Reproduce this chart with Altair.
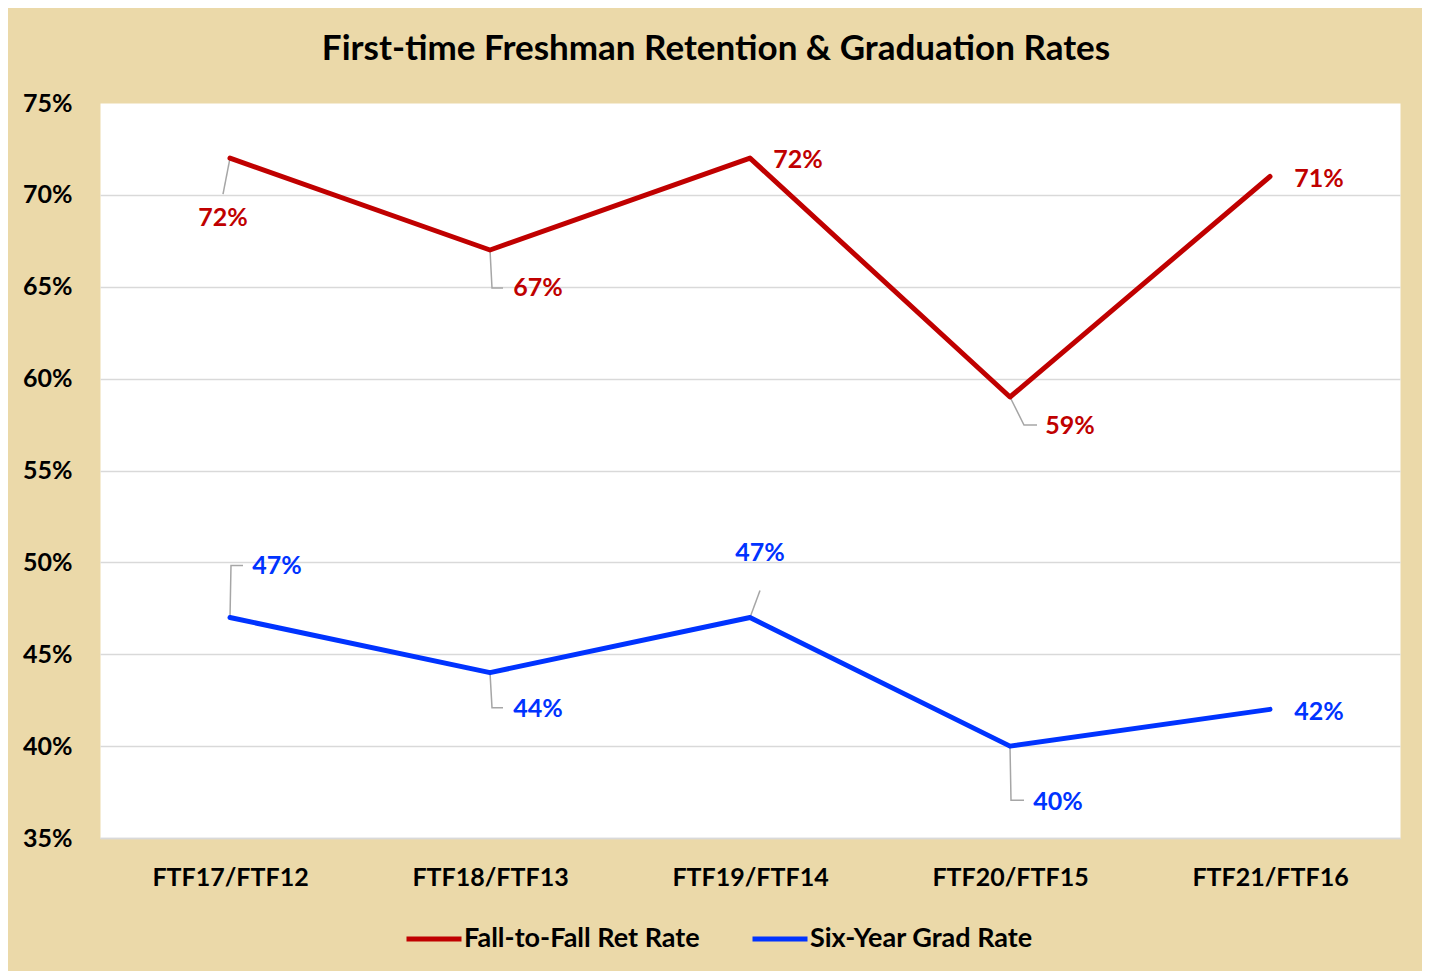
import json
import altair as alt
import pandas as pd

# ---- data ----
categories = ["FTF17/FTF12", "FTF18/FTF13", "FTF19/FTF14", "FTF20/FTF15", "FTF21/FTF16"]
series_names = ["Fall-to-Fall Ret Rate", "Six-Year Grad Rate"]
ret_rate = [72, 67, 72, 59, 71]
grad_rate = [47, 44, 47, 40, 42]
y_ticks = [35, 40, 45, 50, 55, 60, 65, 70, 75]

# ---- layout / style ----
W, H = 1300, 735
Y_MIN, Y_MAX = 35, 75
PX_X = W / 5.0
PX_Y = H / float(Y_MAX - Y_MIN)
RED, BLUE = "#C00000", "#0033FF"
FONT = "Lato"

# label offsets (pixels from the point) and leader line vertices (pixels from the point)
label_layout = {
    (0, 0): ((-7, 60), [(0, 0), (-7, 36)]),
    (0, 1): ((48, 38), [(0, 0), (2, 38), (13, 38)]),
    (0, 2): ((48, 2), []),
    (0, 3): ((60, 29), [(0, 0), (14, 28), (27, 28)]),
    (0, 4): ((49, 2), []),
    (1, 0): ((47, -52), [(0, 0), (1, -52), (13, -52)]),
    (1, 1): ((48, 36), [(0, 0), (2, 35), (13, 35)]),
    (1, 2): ((10, -65), [(0, 0), (10, -27)]),
    (1, 3): ((48, 56), [(0, 0), (1, 54), (14, 54)]),
    (1, 4): ((49, 3), []),
}

rows, label_rows, leader_rows = [], [], []
for s, vals in enumerate([ret_rate, grad_rate]):
    for i, v in enumerate(vals):
        rows.append({"series": series_names[s], "idx": i, "value": v})
        (ldx, ldy), leader = label_layout[(s, i)]
        label_rows.append({
            "series": series_names[s],
            "lx": i + ldx / PX_X,
            "ly": v - ldy / PX_Y,
            "text": f"{v}%",
        })
        for k, (dx, dy) in enumerate(leader):
            leader_rows.append({
                "key": f"{s}-{i}", "order": k,
                "lx": i + dx / PX_X, "ly": v - dy / PX_Y,
            })

df = pd.DataFrame(rows)
df_labels = pd.DataFrame(label_rows)
df_leaders = pd.DataFrame(leader_rows)

color_scale = alt.Scale(domain=series_names, range=[RED, BLUE])
x_scale = alt.Scale(domain=[-0.5, 4.5], nice=False, zero=False)
y_scale = alt.Scale(domain=[Y_MIN, Y_MAX], nice=False, zero=False)

label_expr = json.dumps(categories) + "[datum.value]"

x_axis = alt.Axis(
    values=list(range(len(categories))), labelExpr=label_expr, title=None,
    grid=False, ticks=False, domain=True, domainColor="#D9D9D9", domainWidth=1.5,
    labelFont=FONT, labelFontSize=25, labelFontWeight="bold", labelColor="#000000",
    labelPadding=27,
)
y_axis = alt.Axis(
    values=y_ticks, labelExpr="datum.value + '%'", title=None,
    grid=True, gridColor="#D9D9D9", gridWidth=1.5,
    gridOpacity={"condition": {"test": "datum.value >= 75", "value": 0}, "value": 1},
    ticks=False, domain=False,
    labelFont=FONT, labelFontSize=25, labelFontWeight="bold", labelColor="#000000",
    labelPadding=28,
)

leaders = alt.Chart(df_leaders).mark_line(color="#A6A6A6", strokeWidth=1.5).encode(
    x=alt.X("lx:Q", scale=x_scale, axis=x_axis),
    y=alt.Y("ly:Q", scale=y_scale, axis=y_axis),
    detail="key:N",
    order="order:O",
)

lines = alt.Chart(df).mark_line(strokeWidth=5, strokeCap="round", strokeJoin="round").encode(
    x=alt.X("idx:Q", scale=x_scale),
    y=alt.Y("value:Q", scale=y_scale),
    color=alt.Color(
        "series:N", scale=color_scale,
        legend=alt.Legend(
            title=None, orient="none", direction="horizontal",
            legendX=304, legendY=806,
            symbolType="stroke", symbolSize=3025, symbolStrokeWidth=5,
            labelFont=FONT, labelFontSize=27, labelFontWeight="bold", labelColor="#000000",
            labelOffset=0, columnPadding=42, labelLimit=400,
        ),
    ),
)

labels = alt.Chart(df_labels).mark_text(
    font=FONT, fontSize=25, fontWeight="bold", align="center", baseline="middle"
).encode(
    x=alt.X("lx:Q", scale=x_scale),
    y=alt.Y("ly:Q", scale=y_scale),
    text="text:N",
    color=alt.Color("series:N", scale=color_scale, legend=None),
)

chart = alt.layer(leaders, lines, labels).properties(
    width=W, height=H,
    autosize=alt.AutoSizeParams(type="none"),
    padding={"left": 92, "top": 95, "right": 22, "bottom": 133},
    background="#EBD9A9",
    title=alt.TitleParams(
        "First-time Freshman Retention & Graduation Rates",
        font=FONT, fontSize=35, fontWeight="bold", color="#000000",
        anchor="middle", dx=-34, offset=24,
    ),
).configure_view(fill="white", stroke="transparent")

chart.save("out.html", embed_options={"renderer": "svg", "actions": False})
